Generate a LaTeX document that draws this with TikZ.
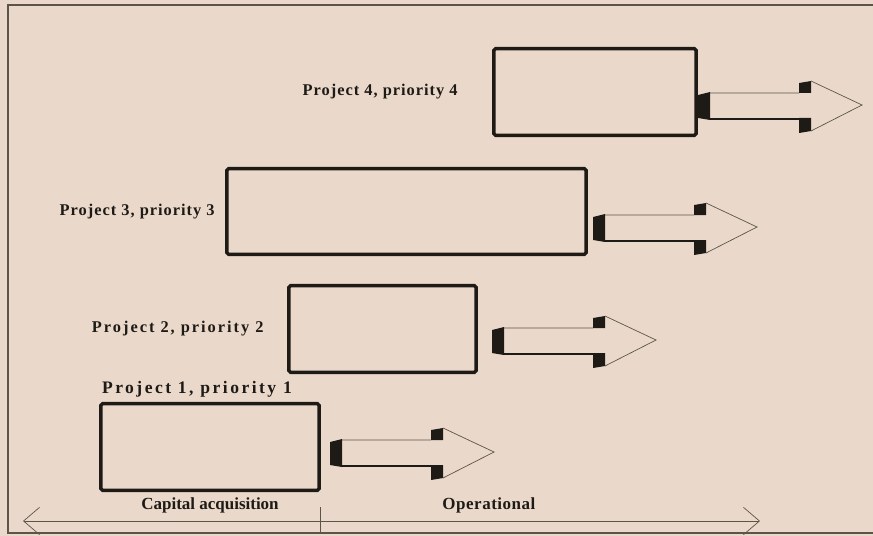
\documentclass[tikz,border=0pt]{standalone}
\usepackage{fontspec}
\setmainfont{Liberation Serif}
\usetikzlibrary{arrows.meta,positioning}
\definecolor{paper}{HTML}{EAD9CA}
\definecolor{ink}{HTML}{1E1A16}
\definecolor{rule}{HTML}{5A5548}
\tikzset{%
  >={Straight Barb[length=4.8mm,width=8.2mm]},
  % Specifications for style of nodes:
      project/.style = {rectangle, rounded corners=1.5pt, draw=ink, line width=3pt,
                        minimum height=2.6cm, inner sep=0pt, outer sep=0pt},
          tag/.style = {inner sep=0pt, text=ink,
                        font=\bfseries\fontsize{14}{16}\selectfont\addfontfeatures{LetterSpace=6}},
        phase/.style = {inner sep=0pt, text=ink,
                        font=\bfseries\fontsize{14.5}{16}\selectfont},
}
% block arrow leaving a project, #1 = tail point at mid height
\newcommand{\flowarrow}[1]{%
  \begin{scope}[shift={(#1)}]
    \fill[ink] (0,-10) -- (12,-13) -- (12,15) -- (0,13) -- cycle;
    \fill[ink] (101,-22) -- (113,-24) -- (113,-12) -- (101,-12) -- cycle;
    \fill[ink] (101,13) -- (113,13) -- (113,26) -- (101,28) -- cycle;
    \draw[rule, line width=0.6pt] (12,-12) -- (101,-12) (113,-24) -- (164,0) -- (113,26);
    \draw[ink, line width=2pt] (12,14) -- (101,14);
  \end{scope}}

\begin{document}
\begin{tikzpicture}[x=0.03cm, y=-0.03cm]
  \fill[paper] (0,0) rectangle (873,536);
  \useasboundingbox (0,0) rectangle (873,536);
  \draw[rule, line width=1.6pt] (880,5) -- (8,5) -- (8,533) -- (880,533);

  % the four projects
  \node (box4) [project, minimum width=6.07cm] at (595,92) {};
  \node (box3) [project, minimum width=10.78cm, minimum height=2.57cm] at (406.5,211.5) {};
  \node (box2) [project, minimum width=5.62cm] at (382.5,329) {};
  \node (box1) [project, minimum width=6.55cm] at (210,447) {};

  \node (tag4) [tag, left=1.08cm of box4] {Project 4, priority 4};
  \node (tag3) [tag, left=0.36cm of box3] {Project 3, priority 3};
  \node (tag2) [tag, left=0.75cm of box2, font=\bfseries\fontsize{14}{16}\selectfont\addfontfeatures{LetterSpace=12}]
               {Project 2, priority 2};
  \node (tag1) [tag, above=0.18cm of box1, xshift=-0.39cm, font=\bfseries\fontsize{15}{17}\selectfont\addfontfeatures{LetterSpace=14}]
               {Project 1, priority 1};

  % arrows into the operational phase
  \coordinate (out4) at (698,105);
  \coordinate (out3) at (593,227);
  \coordinate (out2) at (492,340);
  \coordinate (out1) at (330,452);
  \foreach \o in {out1,out2,out3,out4} {\flowarrow{\o}}

  % time line at the bottom
  \node (capital) [phase, below=0.2cm of box1] {Capital acquisition};
  \node (operate) [phase, right=4.9cm of capital, font=\bfseries\fontsize{14.5}{16}\selectfont\addfontfeatures{LetterSpace=3}] {Operational};
  \coordinate (lineStart) at (23,521);
  \coordinate (lineEnd)   at (760,521);
  \coordinate (splitTop)  at (320,507);
  \coordinate (splitEnd)  at (320,533);
  \draw[<->, rule, line width=0.6pt] (lineStart) -- (lineEnd);
  \draw[rule, line width=0.6pt] (splitTop) -- (splitEnd);
\end{tikzpicture}
\end{document}
